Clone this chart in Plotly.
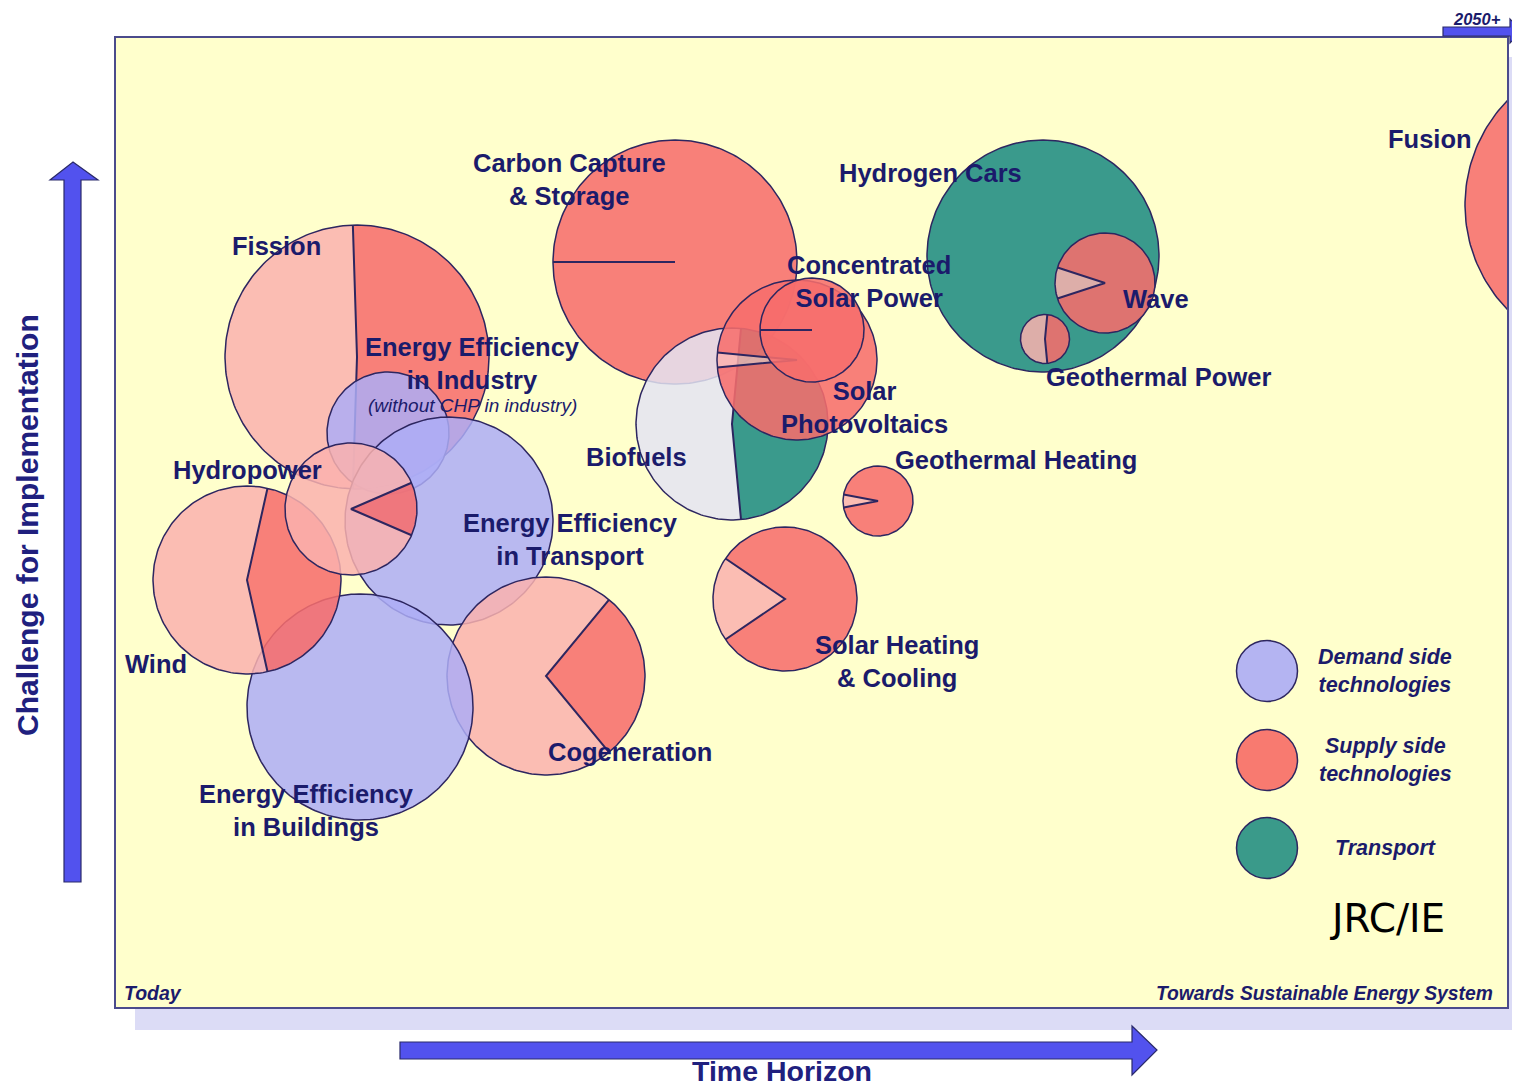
import numpy as np
import plotly.graph_objects as go

# bubbles, listed in drawing order (later ones sit on top)
names = ["Carbon Capture & Storage", "Biofuels", "Solar Photovoltaics", "Concentrated Solar Power",
         "Fission", "Energy Efficiency in Industry", "Energy Efficiency in Transport", "Cogeneration",
         "Energy Efficiency in Buildings", "Wind", "Hydropower", "Hydrogen Cars", "Wave",
         "Geothermal Power", "Solar Heating & Cooling", "Geothermal Heating", "Fusion"]
time_horizon = [56.0, 61.7, 68.2, 69.7, 24.2, 27.3, 33.4, 43.1, 24.5, 13.2, 23.6, 92.8, 99.0, 93.0, 67.0, 76.3, 150.0]
challenge = [74.6, 58.4, 64.8, 67.8, 65.1, 57.5, 48.7, 33.2, 30.1, 42.8, 49.9, 75.2, 72.5, 66.9, 40.9, 50.7, 80.3]
bubble_r = [12.2, 9.6, 8.0, 5.2, 13.2, 6.1, 10.4, 9.9, 11.3, 9.4, 6.6, 11.6, 5.0, 2.45, 7.2, 3.5, 15.0]
group = ["supply", "transport", "supply", "supply", "supply", "demand", "demand", "supply",
         "demand", "supply", "supply", "transport", "supply", "supply", "supply", "supply", "supply"]
main_share = [1.0, 0.47, 0.97, 1.0, 0.51, None, None, 0.28, None, 0.43, 0.13, None, 0.9, 0.47, 0.81, 0.94, None]

# bubble labels
label_text = ["Carbon Capture<br>& Storage", "Hydrogen Cars", "Fusion", "Fission", "Concentrated<br>Solar Power",
              "Wave", "Energy Efficiency<br>in Industry", "Geothermal Power", "Solar<br>Photovoltaics", "Biofuels",
              "Geothermal Heating", "Hydropower", "Energy Efficiency<br>in Transport", "Wind",
              "Solar Heating<br>& Cooling", "Cogeneration", "Energy Efficiency<br>in Buildings"]
label_x = [45.4, 81.5, 131.5, 16.1, 75.4, 104.1, 35.7, 104.3, 74.9, 52.1, 90.1, 13.2, 45.5, 4.1, 78.2, 51.5, 19.1]
label_y = [82.9, 83.5, 86.9, 76.2, 72.7, 70.9, 64.5, 63.1, 60.1, 55.1, 54.8, 53.8, 46.9, 34.4, 34.7, 25.6, 19.8]

legend_groups = ["demand", "supply", "transport"]
legend_text = ["Demand side<br>technologies", "Supply side<br>technologies", "Transport"]
legend_y = [33.7, 24.8, 16.0]

main_col = {"demand": "rgba(173,173,246,0.85)", "supply": "rgba(247,109,108,0.87)", "transport": "rgba(24,136,128,0.85)"}
rest_col = {"supply": "rgba(250,178,174,0.85)", "transport": "rgba(228,228,242,0.85)"}
solid_col = {"demand": "#b4b4f2", "supply": "#f87a70", "transport": "#3a9a8a"}
EDGE = "#2d2660"
NAVY = "#1b1b6b"
FONT = "Liberation Sans, Arial, sans-serif"

# page is offset 8px by the body margin, so the figure is 8px smaller
W, H = 1512, 1080
ML, MR, MT, MB = 107, 12, 29, 80
BOX_L, BOX_B = 115, 1008  # plot box position on the page


def arc(cx, cy, r, a0, a1, n=120):
    t = np.radians(np.linspace(a0, a1, n))
    return cx + r * np.sin(t), cy + r * np.cos(t)


def wedge(cx, cy, r, a0, a1):
    xs, ys = arc(cx, cy, r, a0, a1)
    return np.r_[cx, xs, cx], np.r_[cy, ys, cy]


fig = go.Figure()
for i in range(len(names)):
    cx, cy, r, g, f = time_horizon[i], challenge[i], bubble_r[i], group[i], main_share[i]
    if f is None or f >= 1:
        xs, ys = arc(cx, cy, r, 0, 360, 240)
        fig.add_trace(go.Scatter(x=xs, y=ys, fill="toself", fillcolor=main_col[g], mode="lines",
                                 line=dict(width=0), hoverinfo="skip", showlegend=False))
    else:
        a0, a1 = 90 - 180 * f, 90 + 180 * f
        xs, ys = wedge(cx, cy, r, a0, a1)
        fig.add_trace(go.Scatter(x=xs, y=ys, fill="toself", fillcolor=main_col[g], mode="lines",
                                 line=dict(width=0), hoverinfo="skip", showlegend=False))
        xs, ys = wedge(cx, cy, r, a1, a0 + 360)
        fig.add_trace(go.Scatter(x=xs, y=ys, fill="toself", fillcolor=rest_col[g], mode="lines",
                                 line=dict(width=0), hoverinfo="skip", showlegend=False))
    # outline
    xs, ys = arc(cx, cy, r, 0, 360, 240)
    fig.add_trace(go.Scatter(x=xs, y=ys, mode="lines", line=dict(color=EDGE, width=1.5),
                             hoverinfo="skip", showlegend=False))
    # pie split lines
    if f is not None and names[i] != "Fusion":
        if f >= 1:
            px, py = arc(cx, cy, r, 270, 270, 1)
            lx, ly = [px[0], cx], [py[0], cy]
        else:
            p0x, p0y = arc(cx, cy, r, 90 - 180 * f, 90 - 180 * f, 1)
            p1x, p1y = arc(cx, cy, r, 90 + 180 * f, 90 + 180 * f, 1)
            lx, ly = [p0x[0], cx, p1x[0]], [p0y[0], cy, p1y[0]]
        fig.add_trace(go.Scatter(x=lx, y=ly, mode="lines", line=dict(color=EDGE, width=2),
                                 hoverinfo="skip", showlegend=False))

# legend bubbles
fig.add_trace(go.Scatter(x=[115.2] * 3, y=legend_y, mode="markers",
                         marker=dict(size=61, color=[solid_col[g] for g in legend_groups],
                                     line=dict(color=EDGE, width=1.5)),
                         hoverinfo="skip", showlegend=False))

ann = []
for t, x, y in zip(label_text, label_x, label_y):
    ann.append(dict(x=x, y=y, xref="x", yref="y", text="<b>" + t + "</b>", showarrow=False,
                    font=dict(family=FONT, size=25.5, color=NAVY)))
ann.append(dict(x=35.7, y=60.3, xref="x", yref="y", text="<i>(without CHP in industry)</i>", showarrow=False,
                font=dict(family=FONT, size=19, color=NAVY)))
for t, y in zip(legend_text, legend_y):
    ann.append(dict(x=127.0, y=y, xref="x", yref="y", text="<b><i>" + t + "</i></b>", showarrow=False,
                    font=dict(family=FONT, size=21.5, color=NAVY)))
ann.append(dict(x=127.2, y=9.0, xref="x", yref="y", text="JRC/IE", showarrow=False,
                font=dict(family="DejaVu Sans", size=39, color="#000000")))
ann.append(dict(x=0.7, y=1.5, xref="x", yref="y", text="<b><i>Today</i></b>", showarrow=False,
                xanchor="left", font=dict(family=FONT, size=19.5, color=NAVY)))
ann.append(dict(x=138.0, y=1.5, xref="x", yref="y", text="<b><i>Towards Sustainable Energy System</i></b>",
                showarrow=False, xanchor="right", font=dict(family=FONT, size=19.3, color=NAVY)))

PW, PH = W - ML - MR, H - MT - MB


def px_x(v):
    return (v - BOX_L) / PW


def px_y(v):
    return (BOX_B - v) / PH


def poly(points):
    return "M " + " L ".join(f"{px_x(a):.5f},{px_y(b):.5f}" for a, b in points) + " Z"


ann.append(dict(x=px_x(27), y=px_y(525), xref="paper", yref="paper", text="<b>Challenge for Implementation</b>",
                textangle=-90, showarrow=False, xanchor="center", yanchor="middle",
                font=dict(family=FONT, size=30, color="#20207e")))
ann.append(dict(x=px_x(782), y=px_y(1071), xref="paper", yref="paper", text="<b>Time Horizon</b>",
                showarrow=False, xanchor="center", yanchor="middle",
                font=dict(family=FONT, size=28.5, color="#20207e")))
ann.append(dict(x=px_x(1477), y=px_y(19), xref="paper", yref="paper", text="<b><i>2050+</i></b>",
                showarrow=False, xanchor="center", yanchor="middle",
                font=dict(family=FONT, size=16.5, color=NAVY)))

ARROW = "#5252ee"
shapes = [
    dict(type="rect", xref="paper", yref="paper", x0=px_x(135), x1=px_x(1535), y0=px_y(1030), y1=px_y(57),
         fillcolor="#dcdcf6", line=dict(width=0), layer="below"),
    dict(type="rect", xref="paper", yref="paper", x0=0, x1=1, y0=0, y1=1,
         fillcolor="#ffffcc", line=dict(width=0), layer="below"),
    dict(type="rect", xref="paper", yref="paper", x0=0, x1=1, y0=0, y1=1,
         fillcolor="rgba(0,0,0,0)", line=dict(color="#4b4b8c", width=2), layer="above"),
    dict(type="path", xref="paper", yref="paper", layer="above",
         path=poly([(64, 882), (81, 882), (81, 180), (98, 180), (73, 162), (50, 180), (64, 180)]),
         fillcolor=ARROW, line=dict(color="#2a2a6a", width=1.2)),
    dict(type="path", xref="paper", yref="paper", layer="above",
         path=poly([(400, 1042), (1132, 1042), (1132, 1026), (1157, 1050), (1132, 1075), (1132, 1059), (400, 1059)]),
         fillcolor=ARROW, line=dict(color="#2a2a6a", width=1.2)),
    dict(type="path", xref="paper", yref="paper", layer="above",
         path=poly([(1443, 27), (1510, 27), (1510, 19), (1522, 31), (1510, 43), (1510, 36), (1443, 36)]),
         fillcolor=ARROW, line=dict(color="#2a2a6a", width=1.2)),
]

fig.update_layout(
    width=W, height=H,
    margin=dict(l=ML, r=MR, t=MT, b=MB),
    paper_bgcolor="white", plot_bgcolor="rgba(0,0,0,0)",
    xaxis=dict(range=[0, PW / 10], visible=False, showgrid=False, zeroline=False),
    yaxis=dict(range=[0, PH / 10], visible=False, showgrid=False, zeroline=False),
    annotations=ann, shapes=shapes,
)
fig.write_html("out.html")
